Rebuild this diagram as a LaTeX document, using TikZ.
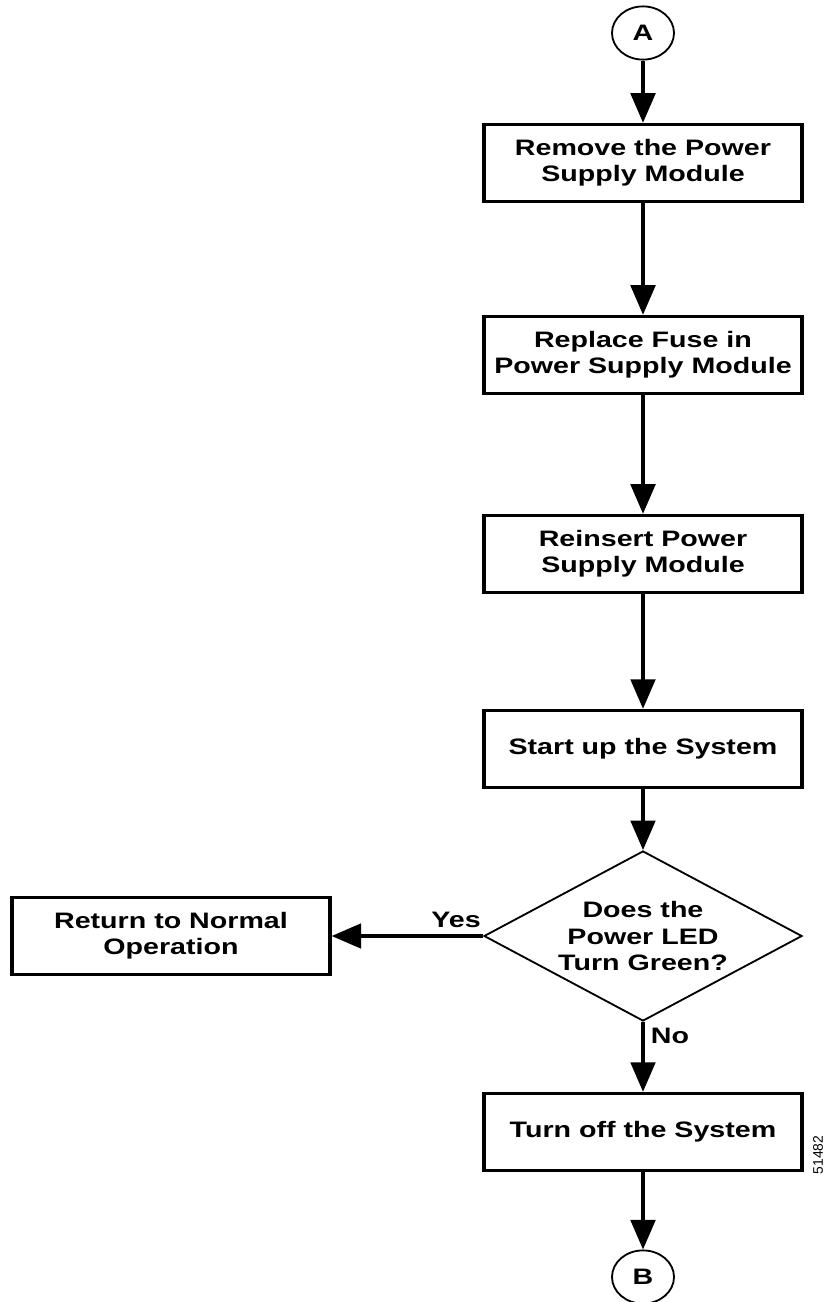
\documentclass[tikz,border=0pt]{standalone}
\usepackage{fontspec}
\setmainfont{Liberation Sans}
\newfontfamily\flowfont[FakeStretch=1.28]{Liberation Sans}
\usetikzlibrary{arrows.meta,shapes.geometric}

\begin{document}
\begin{tikzpicture}[
    x=0.025cm, y=-0.025cm,
    flowtext/.style={font=\flowfont\bfseries\fontsize{15.9}{18.5}\selectfont},
    stepnode/.style={rectangle, draw=black, line width=2.3pt, minimum width=7.95cm, minimum height=1.93cm, inner sep=0pt, align=center, flowtext},
    asknode/.style={diamond, draw=black, line width=1.3pt, aspect=1.86, minimum width=7.95cm, minimum height=4.25cm, inner sep=0pt, align=center, flowtext},
    connnode/.style={ellipse, draw=black, line width=1.3pt, minimum width=1.55cm, minimum height=1.33cm, inner sep=0pt, flowtext},
    answer/.style={inner sep=0pt, anchor=base, flowtext},
    flowarrow/.style={line width=2.3pt, -{Triangle[width=17.5pt,length=21pt]}}
    ]
    \useasboundingbox (0,0) rectangle (827,1302);

    \node [connnode] (conA) at (643, 33) {A};

    \node [stepnode] (remove) at (643, 163) {Remove the Power\\Supply Module};
    \draw [flowarrow] (conA) edge (remove);

    \node [stepnode] (fuse) at (643, 355) {Replace Fuse in\\Power Supply Module};
    \node [stepnode] (reinsert) at (643, 554) {Reinsert Power\\Supply Module};
    \node [stepnode] (startup) at (643, 749) {Start up the System};
    \draw [flowarrow] (remove) edge (fuse);
    \draw [flowarrow] (fuse) edge (reinsert);
    \draw [flowarrow] (reinsert) edge (startup);

    \node [asknode] (ledgreen) at (643, 936) {Does the\\Power LED\\Turn Green?};
    \draw [flowarrow] (startup) edge (ledgreen);

    \node [stepnode] (normal) at (171, 936) {Return to Normal\\Operation};
    \node [stepnode] (turnoff) at (643, 1132) {Turn off the System};

    \draw [flowarrow] (ledgreen) edge (normal);
    \node [answer] (yes) at (456, 927) {Yes};
    \draw [flowarrow] (ledgreen) edge (turnoff);
    \node [answer] (no) at (670, 1043) {No};

    \node [connnode] (conB) at (643, 1277) {B};
    \draw [flowarrow] (turnoff) edge (conB);

    \node [rotate=90, inner sep=0pt, font=\fontsize{9.9}{12}\selectfont] (fignum) at (818, 1155) {51482};
    \end{tikzpicture}
\end{document}
